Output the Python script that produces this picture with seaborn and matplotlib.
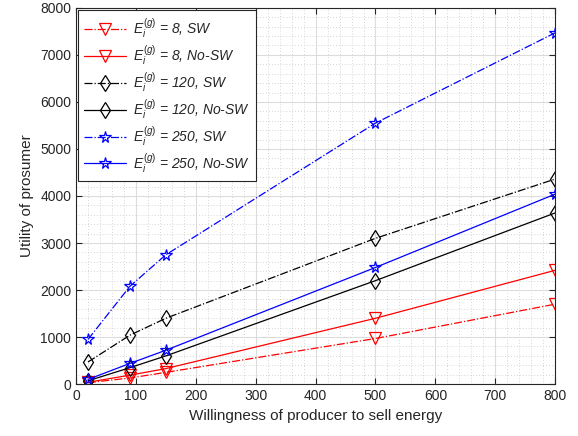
import matplotlib
matplotlib.use("Agg")
import matplotlib.pyplot as plt
import seaborn as sns
import pandas as pd
from matplotlib.ticker import MultipleLocator

sns.set_theme(style="white")
plt.rcParams['font.family'] = ['Liberation Sans', 'DejaVu Sans']
plt.rcParams['mathtext.fontset'] = 'custom'
plt.rcParams['mathtext.rm'] = 'Liberation Sans'
plt.rcParams['mathtext.it'] = 'Liberation Sans:italic'

x_vals = [20, 90, 150, 500, 800]
red_sw = [30, 130, 250, 970, 1700]
red_nosw = [40, 190, 330, 1400, 2420]
black_sw = [470, 1040, 1400, 3100, 4360]
black_nosw = [70, 350, 600, 2200, 3640]
blue_sw = [950, 2080, 2750, 5550, 7470]
blue_nosw = [100, 440, 720, 2480, 4040]

labels = [r'$E_i^{(g)}$ = 8, SW', r'$E_i^{(g)}$ = 8, No-SW',
          r'$E_i^{(g)}$ = 120, SW', r'$E_i^{(g)}$ = 120, No-SW',
          r'$E_i^{(g)}$ = 250, SW', r'$E_i^{(g)}$ = 250, No-SW']
series = [red_sw, red_nosw, black_sw, black_nosw, blue_sw, blue_nosw]
colors = ['#ff0000', '#ff0000', '#000000', '#000000', '#0000ff', '#0000ff']
styles = ['-.', '-', '-.', '-', '-.', '-']
markers = ['v', 'v', 'd', 'd', '*', '*']
msizes = [8.5, 8.5, 8, 8, 8.5, 8.5]

fig = plt.figure(figsize=(5.78, 4.36), dpi=100)
ax = fig.add_axes([0.1315, 0.119, 0.829, 0.863])

for ys, lab, c, ls, m, ms in zip(series, labels, colors, styles, markers, msizes):
    df = pd.DataFrame({'x': x_vals, 'y': ys})
    sns.lineplot(data=df, x='x', y='y', ax=ax, color=c, linestyle=ls, marker=m,
                 markersize=ms, markerfacecolor='none', markeredgecolor=c,
                 markeredgewidth=0.9, linewidth=0.9, label=lab)

ax.set_xlim(0, 800)
ax.set_ylim(0, 8000)
ax.xaxis.set_major_locator(MultipleLocator(100))
ax.yaxis.set_major_locator(MultipleLocator(1000))
ax.xaxis.set_minor_locator(MultipleLocator(20))
ax.yaxis.set_minor_locator(MultipleLocator(200))
ax.grid(True, which='major', color='#dcdcdc', linewidth=0.8, linestyle='-')
ax.grid(True, which='minor', color='#c8c8c8', linewidth=0.6, linestyle=(0, (1, 2.5)))
ax.set_axisbelow(True)
for s in ax.spines.values():
    s.set_color('#262626')
    s.set_linewidth(0.8)
ax.tick_params(axis='both', which='major', direction='in', length=4, width=0.8,
               colors='#262626', labelsize=10, top=True, right=True, bottom=True, left=True)
ax.tick_params(axis='both', which='minor', length=0)
ax.set_xlabel('Willingness of producer to sell energy', fontsize=11, color='#262626')
ax.set_ylabel('Utility of prosumer', fontsize=11, color='#262626')

leg = ax.legend(loc='upper left', fontsize=10, frameon=True, fancybox=False,
                edgecolor='#262626', framealpha=1, handlelength=3.0, handletextpad=0.5,
                labelspacing=0.22, borderpad=0.45, borderaxespad=0,
                bbox_to_anchor=(0.004, 0.994))
leg.get_frame().set_linewidth(0.8)
for t in leg.get_texts():
    t.set_fontstyle('italic')

fig.savefig('out.png', dpi=100)
